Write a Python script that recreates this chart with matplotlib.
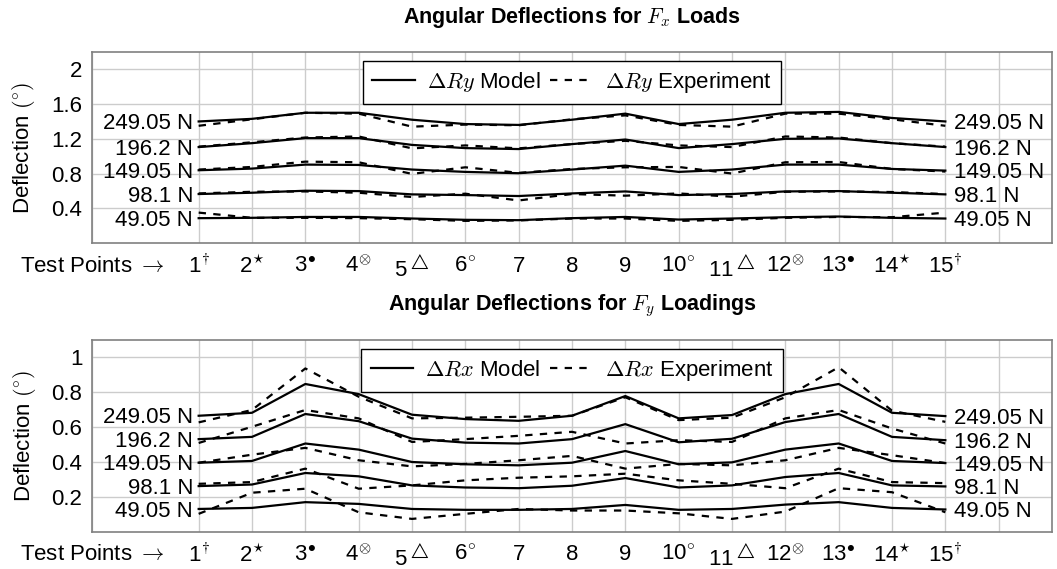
import matplotlib
matplotlib.use("Agg")
import matplotlib.pyplot as plt
import numpy as np

plt.rcParams['font.family'] = ['Liberation Sans', 'DejaVu Sans']
plt.rcParams['mathtext.fontset'] = 'cm'
plt.rcParams['mathtext.rm'] = 'Liberation Sans'

test_points = list(range(1, 16))
tick_labels = ['1$^{\\dagger}$', '2$^{\\star}$', '3$^{\\bullet}$', '4$^{\\otimes}$', '5$^{\\triangle}$',
               '6$^{\\circ}$', '7', '8', '9', '10$^{\\circ}$', '11$^{\\triangle}$', '12$^{\\otimes}$',
               '13$^{\\bullet}$', '14$^{\\star}$', '15$^{\\dagger}$']
load_labels = ['249.05 N', '196.2 N', '149.05 N', '98.1 N', '49.05 N']

# Fx loads: Delta Ry
fx_model_249 = [1.40, 1.43, 1.50, 1.50, 1.42, 1.37, 1.36, 1.42, 1.49, 1.37, 1.42, 1.50, 1.51, 1.44, 1.40]
fx_exp_249 = [1.35, 1.425, 1.50, 1.49, 1.34, 1.364, 1.356, 1.425, 1.47, 1.36, 1.34, 1.49, 1.49, 1.425, 1.35]
fx_model_196 = [1.105, 1.15, 1.208, 1.208, 1.13, 1.093, 1.082, 1.139, 1.192, 1.093, 1.139, 1.20, 1.204, 1.15, 1.105]
fx_exp_196 = [1.11, 1.16, 1.215, 1.227, 1.09, 1.124, 1.09, 1.14, 1.177, 1.124, 1.105, 1.227, 1.215, 1.15, 1.11]
fx_model_149 = [0.838, 0.857, 0.903, 0.899, 0.846, 0.819, 0.804, 0.846, 0.891, 0.819, 0.846, 0.903, 0.903, 0.853, 0.834]
fx_exp_149 = [0.846, 0.876, 0.937, 0.93, 0.796, 0.872, 0.808, 0.853, 0.872, 0.876, 0.80, 0.93, 0.933, 0.853, 0.823]
fx_model_98 = [0.564, 0.579, 0.602, 0.598, 0.56, 0.552, 0.541, 0.571, 0.594, 0.552, 0.564, 0.594, 0.598, 0.579, 0.56]
fx_exp_98 = [0.571, 0.59, 0.594, 0.579, 0.53, 0.568, 0.49, 0.564, 0.545, 0.571, 0.533, 0.59, 0.594, 0.587, 0.564]
fx_model_49 = [0.286, 0.29, 0.30, 0.30, 0.282, 0.267, 0.263, 0.286, 0.30, 0.27, 0.282, 0.297, 0.305, 0.29, 0.282]
fx_exp_49 = [0.35, 0.29, 0.29, 0.286, 0.274, 0.255, 0.26, 0.282, 0.282, 0.255, 0.267, 0.29, 0.30, 0.297, 0.35]

# Fy loadings: Delta Rx
fy_model_249 = [0.666, 0.683, 0.848, 0.79, 0.672, 0.647, 0.637, 0.666, 0.779, 0.651, 0.67, 0.79, 0.848, 0.683, 0.664]
fy_exp_249 = [0.628, 0.699, 0.937, 0.775, 0.651, 0.655, 0.66, 0.666, 0.772, 0.641, 0.655, 0.772, 0.944, 0.695, 0.631]
fy_model_196 = [0.532, 0.545, 0.676, 0.635, 0.535, 0.512, 0.507, 0.532, 0.618, 0.514, 0.534, 0.63, 0.676, 0.545, 0.526]
fy_exp_196 = [0.51, 0.603, 0.699, 0.651, 0.516, 0.532, 0.551, 0.574, 0.507, 0.526, 0.516, 0.651, 0.699, 0.593, 0.507]
fy_model_149 = [0.397, 0.407, 0.507, 0.472, 0.401, 0.388, 0.382, 0.397, 0.464, 0.388, 0.399, 0.472, 0.507, 0.407, 0.395]
fy_exp_149 = [0.397, 0.443, 0.482, 0.411, 0.376, 0.39, 0.411, 0.436, 0.363, 0.39, 0.382, 0.411, 0.482, 0.44, 0.395]
fy_model_98 = [0.263, 0.272, 0.338, 0.319, 0.267, 0.255, 0.251, 0.265, 0.309, 0.255, 0.267, 0.315, 0.338, 0.267, 0.261]
fy_exp_98 = [0.276, 0.286, 0.363, 0.248, 0.267, 0.296, 0.311, 0.319, 0.334, 0.296, 0.276, 0.251, 0.363, 0.286, 0.28]
fy_model_49 = [0.132, 0.138, 0.171, 0.161, 0.132, 0.127, 0.127, 0.132, 0.155, 0.127, 0.132, 0.157, 0.171, 0.138, 0.129]
fy_exp_49 = [0.104, 0.225, 0.248, 0.113, 0.075, 0.104, 0.132, 0.123, 0.123, 0.107, 0.075, 0.117, 0.251, 0.228, 0.113]

fx_models = [fx_model_249, fx_model_196, fx_model_149, fx_model_98, fx_model_49]
fx_exps = [fx_exp_249, fx_exp_196, fx_exp_149, fx_exp_98, fx_exp_49]
fy_models = [fy_model_249, fy_model_196, fy_model_149, fy_model_98, fy_model_49]
fy_exps = [fy_exp_249, fy_exp_196, fy_exp_149, fy_exp_98, fy_exp_49]

W, H = 1057, 569
fig = plt.figure(figsize=(W / 100, H / 100), dpi=100)
ax1 = fig.add_axes([92 / W, 1 - 243 / H, 960 / W, 191 / H])
ax2 = fig.add_axes([92 / W, 1 - 532 / H, 960 / W, 192 / H])

FS = 16
LW = 1.6
dash = (0, (3.3, 3.3))


def draw(ax, models, exps, ylim, yticks, ytl, title, sym):
    for m, e, lab in zip(models, exps, load_labels):
        ax.plot(test_points, m, color='black', lw=LW, solid_joinstyle='round')
        ax.plot(test_points, e, color='black', lw=LW, linestyle=dash)
        ax.annotate(lab, (test_points[0], m[0]), xytext=(-4, -1.5), textcoords='offset points',
                    ha='right', va='center', fontsize=FS)
        ax.annotate(lab, (test_points[-1], m[-1]), xytext=(6, -1.5), textcoords='offset points',
                    ha='left', va='center', fontsize=FS)
    ax.set_xlim(-1, 17)
    ax.set_ylim(*ylim)
    ax.set_xticks([-1] + test_points + [16])
    ax.set_xticklabels(['Test Points $\\rightarrow$'] + tick_labels + [''], fontsize=FS)
    ax.set_yticks(yticks)
    ax.set_yticklabels(ytl, fontsize=FS)
    ax.tick_params(length=0, pad=7)
    ax.tick_params(axis='x', pad=9)
    ax.grid(True, color='#cccccc', lw=1.0)
    ax.set_axisbelow(True)
    for s in ax.spines.values():
        s.set_color('#808080')
        s.set_linewidth(1.2)
    ax.set_ylabel('Deflection $(^{\\circ})$', fontsize=FS, labelpad=10)
    ax.set_title(title, fontsize=15.5, fontweight='bold', pad=21)
    h1, = ax.plot([], [], color='black', lw=LW)
    h2, = ax.plot([], [], color='black', lw=LW, linestyle=dash)
    leg = ax.legend([h1, h2], ['$\\Delta ' + sym + '$ Model', '$\\Delta ' + sym + '$ Experiment'],
                    loc='upper center', bbox_to_anchor=(0.5, 0.955), ncol=2, fontsize=FS,
                    frameon=True, fancybox=False, edgecolor='black', framealpha=1,
                    handlelength=1.9, columnspacing=0.45, handletextpad=0.55, borderpad=0.42,
                    borderaxespad=0.0)
    leg.get_frame().set_linewidth(1.0)


draw(ax1, fx_models, fx_exps, (0, 2.2), [0.4, 0.8, 1.2, 1.6, 2.0], ['0.4', '0.8', '1.2', '1.6', '2'],
     'Angular Deflections for $F_x$ Loads', 'Ry')
draw(ax2, fy_models, fy_exps, (0, 1.1), [0.2, 0.4, 0.6, 0.8, 1.0], ['0.2', '0.4', '0.6', '0.8', '1'],
     'Angular Deflections for $F_y$ Loadings', 'Rx')

fig.savefig('out.png', dpi=100)
